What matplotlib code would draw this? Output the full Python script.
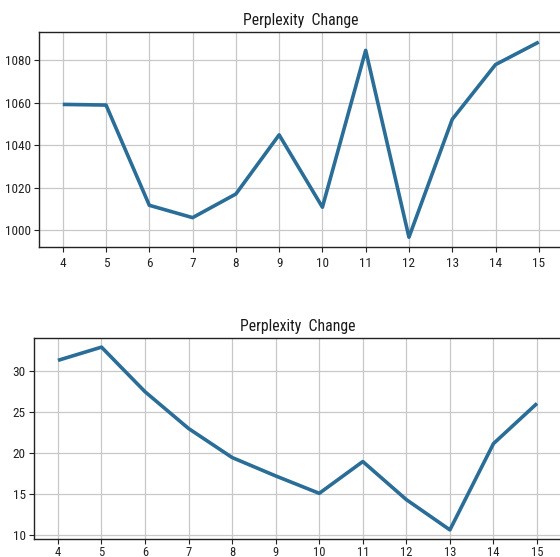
import matplotlib
matplotlib.use("Agg")
import matplotlib.pyplot as plt

plt.rcParams['font.family'] = ['Roboto Condensed', 'DejaVu Sans']

x_vals = [4, 5, 6, 7, 8, 9, 10, 11, 12, 13, 14, 15]
top_vals = [1059.1, 1058.8, 1011.7, 1005.9, 1017.0, 1044.8, 1010.8, 1084.5, 996.7, 1052.1, 1077.8, 1088.4]
bottom_vals = [31.34, 32.96, 27.5, 23.0, 19.45, 17.2, 15.07, 18.96, 14.3, 10.6, 21.15, 26.07]
top_yticks = [1000, 1020, 1040, 1060, 1080]
bottom_yticks = [10, 15, 20, 25, 30]
title = "Perplexity  Change"

fig = plt.figure(figsize=(5.6, 5.57), dpi=100)
ax1 = fig.add_axes([0.0696, 0.5566, 0.935, 0.3854])
ax2 = fig.add_axes([0.0607, 0.0323, 0.941, 0.3609])

color = '#2a6e98'
for ax, vals, yt in ((ax1, top_vals, top_yticks), (ax2, bottom_vals, bottom_yticks)):
    ax.plot(x_vals, vals, color=color, linewidth=2.6, solid_capstyle='butt')
    ax.set_xticks(x_vals)
    ax.set_yticks(yt)
    ax.grid(True, color='#c8c8c8', linewidth=0.9)
    ax.set_title(title, fontsize=11.3, pad=5, color='#1a1a1a')
    ax.tick_params(labelsize=9.5, length=3.5, pad=2.5, colors='#222222')
    for s in ax.spines.values():
        s.set_color('#222222')
        s.set_linewidth(1.0)

ax1.tick_params(axis='x', pad=3.5)
ax2.tick_params(axis='x', pad=1.5, labelsize=9)

fig.savefig("out.png", dpi=100)
